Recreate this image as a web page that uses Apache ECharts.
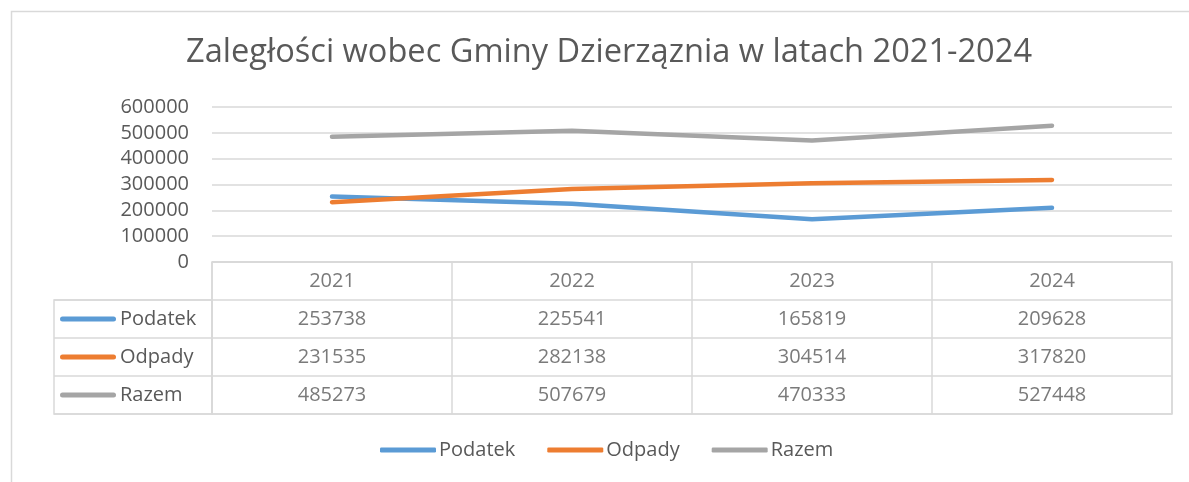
<!DOCTYPE html>
<html>
<head>
<meta charset="utf-8">
<script src="https://cdn.jsdelivr.net/npm/echarts@6/dist/echarts.min.js"></script>
<style>html,body{margin:0;padding:0;background:#fff;}#c{width:1189px;height:482px;}</style>
</head>
<body>
<div id="c"></div>
<script>
const titleText = 'Zaległości wobec Gminy Dzierząznia w latach 2021-2024';
const years = ['2021', '2022', '2023', '2024'];
const seriesNames = ['Podatek', 'Odpady', 'Razem'];
const podatek = [253738, 225541, 165819, 209628];
const odpady = [231535, 282138, 304514, 317820];
const razem = [485273, 507679, 470333, 527448];
const yMin = 0, yMax = 600000, yInterval = 100000;
const headerRow = 'Rok';

const colors = ['#5B9BD5', '#ED7D31', '#A5A5A5'];
const values = [podatek, odpady, razem];
const FONT = 'Open Sans';
const TXT = '#595959';
const LINE = '#D9D9D9';

// table cell data built from arrays
const headerCells = years.map(y => [y, headerRow, y]);
const valueCells = [];
seriesNames.forEach((n, i) => years.forEach((y, j) => valueCells.push([y, n, values[i][j]])));

const rich = { txt: { fontSize: 20, color: TXT, fontFamily: FONT, padding: [0, 0, 0, 4] } };
seriesNames.forEach((n, i) => {
  rich['icon' + i] = { width: 56, height: 5, backgroundColor: colors[i], borderRadius: 2.5, verticalAlign: 'middle' };
});

const chart = echarts.init(document.getElementById('c'), null, { renderer: 'canvas' });
chart.setOption({
  animation: false,
  backgroundColor: '#fff',
  textStyle: { fontFamily: FONT },
  title: {
    text: titleText, left: 604, top: 31, textAlign: 'center',
    textStyle: { fontSize: 32.6, fontWeight: 'normal', color: TXT, fontFamily: FONT }
  },
  legend: {
    data: seriesNames, icon: 'roundRect', itemWidth: 56, itemHeight: 5, itemGap: 32,
    left: 380, top: 440, padding: 0,
    textStyle: { fontSize: 20, color: TXT, fontFamily: FONT, padding: [0, 0, 0, -2] }
  },
  graphic: [{
    type: 'rect', left: 9, top: 9, silent: true,
    shape: { width: 1300, height: 600 },
    style: { fill: 'none', stroke: LINE, lineWidth: 1.5 }
  }],
  grid: [
    { left: 212, right: 17, top: 107, bottom: 220 },
    { left: 212, right: 17, top: 262, height: 152, show: true, borderColor: LINE, borderWidth: 1.5 },
    { left: 54, width: 158, top: 300, height: 114, show: true, borderColor: LINE, borderWidth: 1.5 }
  ],
  xAxis: [
    { gridIndex: 0, type: 'category', data: years, boundaryGap: true,
      axisLine: { show: false }, axisTick: { show: false }, axisLabel: { show: false } },
    { gridIndex: 1, type: 'category', data: years, boundaryGap: true,
      axisLine: { show: false }, axisTick: { show: false }, axisLabel: { show: false },
      splitLine: { show: true, interval: 0, lineStyle: { color: LINE, width: 1.5 } } },
    { gridIndex: 2, type: 'category', data: [''], show: false }
  ],
  yAxis: [
    { gridIndex: 0, type: 'value', min: yMin, max: yMax, interval: yInterval,
      axisLine: { show: false }, axisTick: { show: false },
      axisLabel: { fontSize: 20, color: TXT, fontFamily: FONT, margin: 23, formatter: v => String(v) },
      splitLine: { lineStyle: { color: LINE, width: 1.5 } } },
    { gridIndex: 1, type: 'category', data: [headerRow].concat(seriesNames), inverse: true,
      axisLine: { show: false }, axisTick: { show: false }, axisLabel: { show: false },
      splitLine: { show: true, interval: 0, lineStyle: { color: LINE, width: 1.5 } } },
    { gridIndex: 2, type: 'category', data: seriesNames, inverse: true,
      axisLine: { show: false }, axisTick: { show: false },
      splitLine: { show: true, interval: 0, lineStyle: { color: LINE, width: 1.5 } },
      axisLabel: { inside: true, margin: 6, align: 'left',
        formatter: (v) => '{icon' + seriesNames.indexOf(v) + '|}{txt|' + v + '}', rich: rich } }
  ],
  series: seriesNames.map((n, i) => ({
    name: n, type: 'line', xAxisIndex: 0, yAxisIndex: 0, data: values[i],
    symbol: 'none', showSymbol: false, smooth: false, silent: true,
    itemStyle: { color: colors[i] },
    lineStyle: { color: colors[i], width: 4.5, cap: 'round', join: 'round' }
  })).concat([
    { name: 'hdr', type: 'scatter', xAxisIndex: 1, yAxisIndex: 1, data: headerCells, symbolSize: 0, silent: true,
      label: { show: true, position: 'inside', formatter: p => p.value[2], fontSize: 20, color: TXT, fontFamily: FONT } },
    { name: 'vals', type: 'scatter', xAxisIndex: 1, yAxisIndex: 1, data: valueCells, symbolSize: 0, silent: true,
      label: { show: true, position: 'inside', formatter: p => String(p.value[2]), fontSize: 20, color: TXT, fontFamily: FONT } }
  ])
});
</script>
</body>
</html>
